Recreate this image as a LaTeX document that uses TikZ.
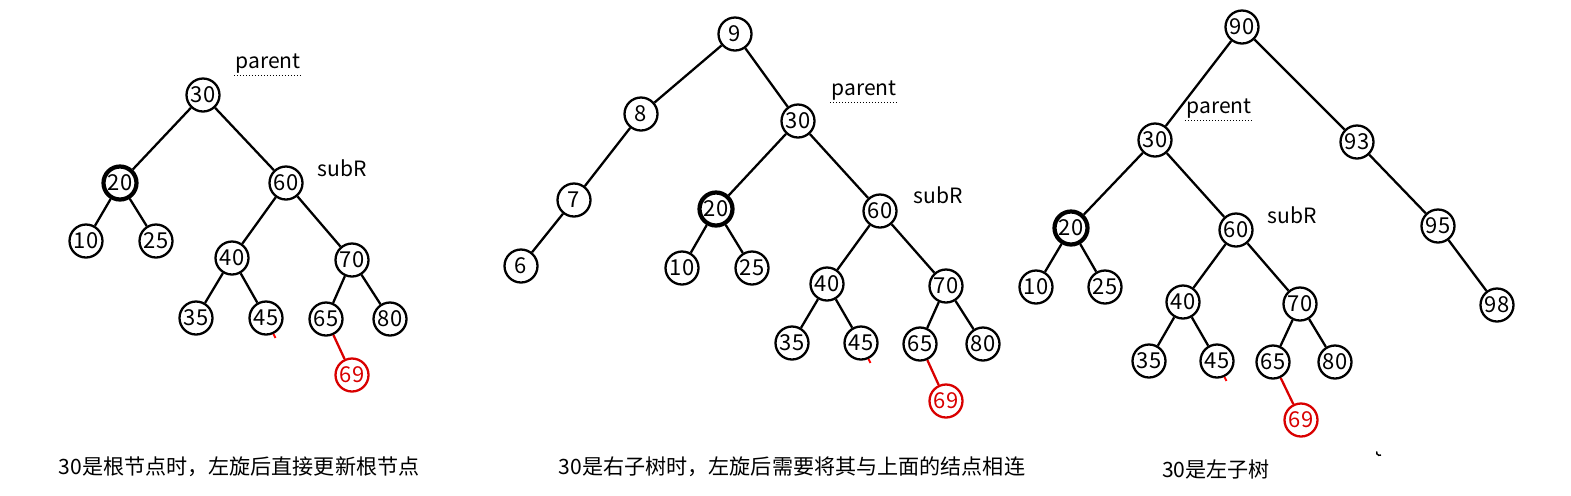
\documentclass[tikz,border=0pt]{standalone}
\usepackage{fontspec}
\setmainfont{Noto Sans CJK SC}
\begin{document}
\begin{tikzpicture}[
    x=0.2mm, y=-0.2mm,
    key/.style={circle, draw, line width=1.3pt, minimum size=6.6mm, inner sep=0pt, font=\fontsize{12.5}{13}\selectfont},
    pivot/.style={key, line width=2.4pt},
    added/.style={key, draw=red!85!black, text=red!85!black},
    link/.style={line width=1.3pt},
    newlink/.style={link, draw=red!85!black},
    tag/.style={inner sep=0.6pt, font=\fontsize{12}{13}\selectfont},
    caption/.style={font=\fontsize{12}{13}\selectfont}
]
    \useasboundingbox (0,0) rectangle (1571,495);

    % first tree: 30 is the root
    \node[key]   (a30) at (203,95)  {30};
    \node[pivot] (a20) at (120,183) {20};
    \node[key]   (a60) at (286,183) {60};
    \node[key]   (a10) at (86,241)  {10};
    \node[key]   (a25) at (156,241) {25};
    \node[key]   (a40) at (232,258) {40};
    \node[key]   (a70) at (352,260) {70};
    \node[key]   (a35) at (196,318) {35};
    \node[key]   (a45) at (266,318) {45};
    \node[key]   (a65) at (326,319) {65};
    \node[key]   (a80) at (390,319) {80};
    \node[added] (a69) at (352,375) {69};
    \draw[link] (a30) -- (a20) (a30) -- (a60)
                (a20) -- (a10) (a20) -- (a25)
                (a60) -- (a40) (a60) -- (a70)
                (a40) -- (a35) (a40) -- (a45)
                (a70) -- (a65) (a70) -- (a80);
    \draw[newlink] (a65) -- (a69);
    \draw[red, line width=1.1pt] (a45.-65) -- ++(2,4);
    \node[tag] (aparent) at (268,64) {parent};
    \draw[densely dotted, line width=0.7pt] (aparent.south west) -- (aparent.south east);
    \node[tag] (asubR) at (342,168) {subR};
    \node[caption] (acap) at (239,467) {30是根节点时，左旋后直接更新根节点};

    % second tree: 30 is a right subtree
    \node[key]   (b9)  at (735,34)  {9};
    \node[key]   (b8)  at (641,114) {8};
    \node[key]   (b30) at (798,121) {30};
    \node[key]   (b7)  at (574,200) {7};
    \node[key]   (b6)  at (521,266) {6};
    \node[pivot] (b20) at (716,209) {20};
    \node[key]   (b60) at (880,211) {60};
    \node[key]   (b10) at (682,268) {10};
    \node[key]   (b25) at (752,268) {25};
    \node[key]   (b40) at (827,284) {40};
    \node[key]   (b70) at (946,286) {70};
    \node[key]   (b35) at (792,343) {35};
    \node[key]   (b45) at (861,343) {45};
    \node[key]   (b65) at (920,344) {65};
    \node[key]   (b80) at (983,344) {80};
    \node[added] (b69) at (946,401) {69};
    \draw[link] (b9) -- (b8) (b9) -- (b30)
                (b8) -- (b7) (b7) -- (b6)
                (b30) -- (b20) (b30) -- (b60)
                (b20) -- (b10) (b20) -- (b25)
                (b60) -- (b40) (b60) -- (b70)
                (b40) -- (b35) (b40) -- (b45)
                (b70) -- (b65) (b70) -- (b80);
    \draw[newlink] (b65) -- (b69);
    \draw[red, line width=1.1pt] (b45.-65) -- ++(2,4);
    \node[tag] (bparent) at (864,91) {parent};
    \draw[densely dotted, line width=0.7pt] (bparent.south west) -- (bparent.south east);
    \node[tag] (bsubR) at (938,195) {subR};
    \node[caption] (bcap) at (792,467) {30是右子树时，左旋后需要将其与上面的结点相连};

    % third tree: 30 is a left subtree
    \node[key]   (c90) at (1242,27)  {90};
    \node[key]   (c30) at (1155,140) {30};
    \node[key]   (c93) at (1357,142) {93};
    \node[key]   (c95) at (1438,226) {95};
    \node[key]   (c98) at (1497,305) {98};
    \node[pivot] (c20) at (1071,228) {20};
    \node[key]   (c60) at (1236,230) {60};
    \node[key]   (c10) at (1036,287) {10};
    \node[key]   (c25) at (1105,287) {25};
    \node[key]   (c40) at (1183,302) {40};
    \node[key]   (c70) at (1300,304) {70};
    \node[key]   (c35) at (1149,361) {35};
    \node[key]   (c45) at (1217,361) {45};
    \node[key]   (c65) at (1273,362) {65};
    \node[key]   (c80) at (1335,362) {80};
    \node[added] (c69) at (1301,420) {69};
    \draw[link] (c90) -- (c30) (c90) -- (c93)
                (c93) -- (c95) (c95) -- (c98)
                (c30) -- (c20) (c30) -- (c60)
                (c20) -- (c10) (c20) -- (c25)
                (c60) -- (c40) (c60) -- (c70)
                (c40) -- (c35) (c40) -- (c45)
                (c70) -- (c65) (c70) -- (c80);
    \draw[newlink] (c65) -- (c69);
    \draw[red, line width=1.1pt] (c45.-65) -- ++(2,4);
    \node[tag] (cparent) at (1219,109) {parent};
    \draw[densely dotted, line width=0.7pt] (cparent.south west) -- (cparent.south east);
    \node[tag] (csubR) at (1292,215) {subR};
    \node[caption] (ccap) at (1216,469) {30是左子树};
    \draw[line width=0.8pt] (1381,455) arc (60:200:3);
\end{tikzpicture}
\end{document}
